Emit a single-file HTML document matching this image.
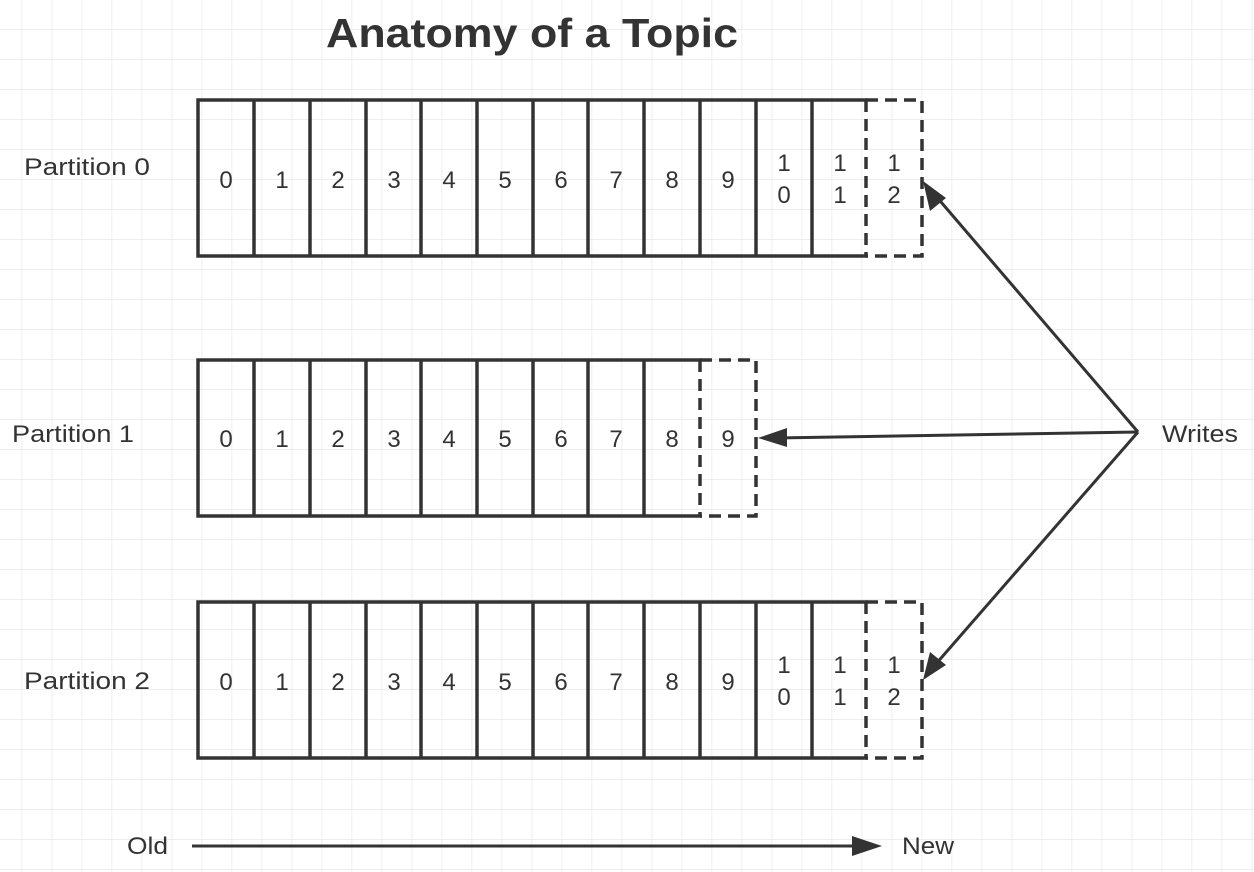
<!DOCTYPE html>
<html><head><meta charset="utf-8"><style>
html,body{margin:0;padding:0;background:#fff}
svg{display:block}
text{font-family:"Liberation Sans",sans-serif;fill:#333}
</style></head><body>
<svg width="1254" height="872" viewBox="0 0 1254 872" xmlns="http://www.w3.org/2000/svg">
<defs>
<pattern id="g" x="21.5" y="29" width="30" height="30" patternUnits="userSpaceOnUse">
<path d="M0 0V30M0 0H30" stroke="#e8e8e8" stroke-width="1.5" fill="none"/>
</pattern>
</defs>
<rect width="1254" height="872" fill="url(#g)"/>
<text x="326" y="47" font-size="41" font-weight="bold" textLength="412" lengthAdjust="spacingAndGlyphs" fill="#222">Anatomy of a Topic</text>
<g font-size="24">
<text x="24" y="175" textLength="126" lengthAdjust="spacingAndGlyphs">Partition 0</text>
<text x="12" y="442" textLength="122" lengthAdjust="spacingAndGlyphs">Partition 1</text>
<text x="24" y="689" textLength="126" lengthAdjust="spacingAndGlyphs">Partition 2</text>
<text x="1162" y="442" textLength="76" lengthAdjust="spacingAndGlyphs">Writes</text>
<text x="127" y="854" textLength="41" lengthAdjust="spacingAndGlyphs">Old</text>
<text x="902" y="854" textLength="52" lengthAdjust="spacingAndGlyphs">New</text>
</g>
<g stroke="#333" stroke-width="3.5" fill="none" stroke-linecap="square">
<path d="M198 100H866M198 256H866M198 100V256M254 100V256M310 100V256M366 100V256M421 100V256M477 100V256M533 100V256M588 100V256M644 100V256M700 100V256M756 100V256M812 100V256"/>
<path d="M866 100H922V256H866M866 100V256" stroke-dasharray="12 7" stroke-linecap="butt"/>
<path d="M198 360H700M198 516H700M198 360V516M254 360V516M310 360V516M366 360V516M421 360V516M477 360V516M533 360V516M588 360V516M644 360V516"/>
<path d="M700 360H756V516H700M700 360V516" stroke-dasharray="12 7" stroke-linecap="butt"/>
<path d="M198 602H866M198 758H866M198 602V758M254 602V758M310 602V758M366 602V758M421 602V758M477 602V758M533 602V758M588 602V758M644 602V758M700 602V758M756 602V758M812 602V758"/>
<path d="M866 602H922V758H866M866 602V758" stroke-dasharray="12 7" stroke-linecap="butt"/>
</g>
<g font-size="24" text-anchor="middle">
<text x="226" y="188">0</text><text x="282" y="188">1</text><text x="338" y="188">2</text><text x="394" y="188">3</text><text x="449" y="188">4</text><text x="505" y="188">5</text><text x="561" y="188">6</text><text x="616" y="188">7</text><text x="672" y="188">8</text><text x="728" y="188">9</text>
<text x="784" y="171">1</text><text x="784" y="203">0</text><text x="840" y="171">1</text><text x="840" y="203">1</text><text x="894" y="171">1</text><text x="894" y="203">2</text>
<text x="226" y="447">0</text><text x="282" y="447">1</text><text x="338" y="447">2</text><text x="394" y="447">3</text><text x="449" y="447">4</text><text x="505" y="447">5</text><text x="561" y="447">6</text><text x="616" y="447">7</text><text x="672" y="447">8</text><text x="728" y="447">9</text>
<text x="226" y="690">0</text><text x="282" y="690">1</text><text x="338" y="690">2</text><text x="394" y="690">3</text><text x="449" y="690">4</text><text x="505" y="690">5</text><text x="561" y="690">6</text><text x="616" y="690">7</text><text x="672" y="690">8</text><text x="728" y="690">9</text>
<text x="784" y="673">1</text><text x="784" y="705">0</text><text x="840" y="673">1</text><text x="840" y="705">1</text><text x="894" y="673">1</text><text x="894" y="705">2</text>
</g>
<g stroke="#333" stroke-width="3" fill="none">
<path d="M1138 432L935 195"/>
<path d="M1138 432L775 438"/>
<path d="M1138 432L935 665"/>
<path d="M192 846H860"/>
</g>
<g fill="#333">
<polygon points="923,181 946,198 930,211"/>
<polygon points="758,438 787,428 787,447"/>
<polygon points="923,680 930,652 946,665"/>
<polygon points="882,846 852,836 852,856"/>
</g>
</svg>
</body></html>
